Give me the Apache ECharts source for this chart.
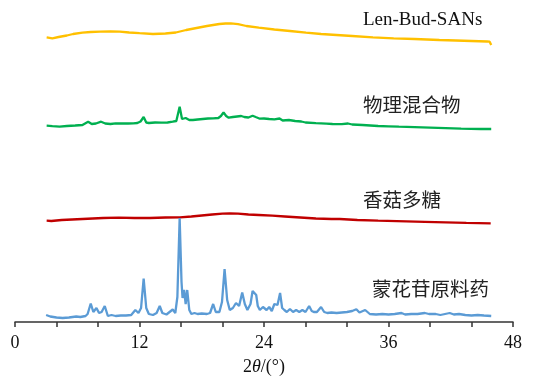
<!DOCTYPE html>
<html>
<head>
<meta charset="utf-8">
<script src="https://cdn.jsdelivr.net/npm/echarts@6/dist/echarts.min.js"></script>
<style>html,body{margin:0;padding:0;background:#fff}#c{width:533px;height:377px}</style>
</head>
<body>
<div id="c"></div>
<script>
// x tick labels
const xTicks = [0, 12, 24, 36, 48];
const seriesNames = ['Len-Bud-SANs', '物理混合物', '香菇多糖', '蒙花苷原料药'];

// 蒙花苷原料药 (blue) 2θ and offset intensity
const blueX = [3.0,3.4,4.0,4.6,5.2,5.9,6.3,6.8,7.0,7.3,7.55,7.85,8.1,8.35,8.65,8.95,9.3,9.7,10.2,10.7,11.2,11.6,11.9,12.15,12.4,12.65,12.9,13.3,13.65,13.95,14.2,14.6,15.2,15.45,15.65,15.87,16.05,16.15,16.3,16.45,16.6,16.8,17.0,17.3,17.6,18.0,18.5,18.8,19.1,19.35,19.7,19.95,20.2,20.45,20.7,21.0,21.3,21.6,21.9,22.15,22.4,22.7,22.9,23.05,23.25,23.4,23.6,23.9,24.0,24.25,24.5,24.75,25.0,25.3,25.55,25.75,25.96,26.2,26.5,26.8,27.1,27.4,27.7,28.0,28.35,28.6,28.8,29.1,29.5,29.8,30.1,30.5,31.0,31.5,32.0,32.5,32.9,33.2,33.75,34.2,34.8,35.4,36.0,36.6,37.25,37.6,38.2,38.8,39.5,39.9,40.55,41.0,41.9,42.3,42.8,43.4,44.0,44.6,45.2,45.9];
const blueY = [7,5.5,4.5,4,4.5,5.5,5,6,8,18.5,10,14,9,10,16,6,7,6,6.5,6.5,7,12,9,14,43.5,14,8,7,9,16,9,7.5,12.5,9,25,104,40,24,32,18,32,12,8,9,8,8.5,8,9,18,10,10,20,53,22,12,14,19,16,29.5,18,12,18,31,32,27,16,12,15,15,12,15,11,18,17,29,14,12,10,13,10,12,10,12,10,16,11,10,10,15,10,9,9.5,9,9.5,10,11,12.7,9.5,12,8,7.5,8,7.5,8,9,7.5,8,8,9,8,8,7,9,7.5,8,7,6.5,7,6.5,6];

// 香菇多糖 (red)
const redX = [3.05,3.5,4.5,5.5,6.5,7.5,8.5,10.0,11.5,13.0,14.5,15.9,17.0,18.0,19.0,20.0,20.7,21.5,22.5,23.5,24.8,26.0,27.5,29.0,30.5,31.3,33.0,35.0,37.7,39.5,41.5,43.5,45.85];
const redY = [101.3,101,102,102.5,103,103.5,104,104.3,104,104,104.5,104.7,105.5,106.5,107.5,108.3,108.7,108.3,107.5,107,106.3,105.5,104.5,103.5,103,103,102,101.3,100.7,100.2,99.7,99.2,98.7];

// 物理混合物 (green)
const greenX = [3.05,3.6,4.3,5.0,5.8,6.5,7.05,7.4,7.8,8.3,8.7,9.2,9.7,10.3,10.9,11.4,11.8,12.1,12.4,12.65,12.9,13.5,14.1,14.7,15.2,15.55,15.87,16.1,16.25,16.45,16.6,16.8,17.15,17.6,18.1,18.6,19.1,19.6,19.85,20.1,20.35,20.6,21.0,21.4,21.8,22.1,22.5,22.9,23.2,23.6,24.0,24.5,25.0,25.5,25.8,26.4,27.0,27.6,28.0,29.0,30.0,30.6,31.5,32.1,32.5,33.5,35.0,36.0,37.0,38.5,40.0,41.5,43.0,44.9,45.9];
const greenY = [196.3,195.8,195.3,196,196.5,197,200.3,198,198.5,200.3,198.5,198,198.7,198.5,198.5,198.7,199,200.5,205,199.5,199,199.5,199.3,199.5,200.3,201,215.3,203,202,204,203.5,202,202,202.5,203,203.5,203.7,204,206,209.7,206,204.3,205,205.5,206,205,204.5,206.3,205,203.3,203.5,203,202.7,203.5,201.5,202,201,200.5,199.5,198.8,198.3,198,197.8,198.5,197.5,197,196,195.7,195.3,194.8,194.3,193.8,193.3,193,193];

// Len-Bud-SANs (yellow)
const yellowX = [3.05,3.6,4.2,5.0,5.6,6.5,7.3,8.2,9.2,10.1,11.0,12.0,13.3,14.5,15.5,16.5,17.5,18.5,19.7,20.3,20.8,21.5,22.3,23.5,25.0,26.5,28.05,29.5,31.0,32.5,34.5,36.5,38.5,40.9,42.5,44.0,45.5,45.75,45.9];
const yellowY = [284.7,283.7,285,286.5,288,289.3,290,290.3,290.5,290.3,289.5,288.8,288,288.5,289.5,292,294,296,298,298.5,298.7,297.8,296,294.3,292.5,291,289.3,288,287,286,284.7,283.7,283,282,281.5,281,280.5,280.3,277];

const zip = (xs, ys) => xs.map((x, i) => [x, ys[i]]);

const chart = echarts.init(document.getElementById('c'), null, {renderer: 'canvas'});
const serif = '"Liberation Serif", "Times New Roman", serif';
const cjk = '"Liberation Serif", "Noto Sans CJK SC", serif';

function lineSeries(name, xs, ys, color) {
  return {
    name: name, type: 'line', data: zip(xs, ys), showSymbol: false, symbol: 'none',
    lineStyle: {color: color, width: 2.3}, itemStyle: {color: color}, animation: false, silent: true
  };
}

chart.setOption({
  backgroundColor: '#fff',
  animation: false,
  grid: {left: 15, right: 20, top: 0, bottom: 55, containLabel: false, outerBoundsMode: 'none'},
  xAxis: {
    type: 'value', min: 0, max: 48, interval: 4,
    axisLine: {show: true, lineStyle: {color: '#333', width: 1.5}},
    axisTick: {show: true, length: 5, lineStyle: {color: '#333', width: 1.5}},
    splitLine: {show: false},
    axisLabel: {
      margin: 12, color: '#111', fontFamily: serif, fontSize: 18,
      formatter: v => xTicks.indexOf(v) >= 0 ? String(v) : ''
    },
    name: '{a|2}{b|θ}{a|/(°)}', nameLocation: 'middle', nameGap: 36,
    nameTextStyle: {
      rich: {
        a: {fontFamily: serif, fontSize: 18, color: '#111'},
        b: {fontFamily: serif, fontSize: 18, fontStyle: 'italic', color: '#111'}
      }
    }
  },
  yAxis: {type: 'value', min: 0, max: 322, show: false, splitLine: {show: false}},
  series: [
    lineSeries(seriesNames[0], yellowX, yellowY, '#FFC000'),
    lineSeries(seriesNames[1], greenX, greenY, '#00B050'),
    lineSeries(seriesNames[2], redX, redY, '#C00000'),
    lineSeries(seriesNames[3], blueX, blueY, '#5B9BD5')
  ],
  graphic: [
    {type: 'text', left: 363, top: 11, style: {text: seriesNames[0], font: '19px ' + serif, fill: '#111'}},
    {type: 'text', left: 363, top: 97, style: {text: seriesNames[1], font: '19.5px ' + cjk, fill: '#222'}},
    {type: 'text', left: 363, top: 192, style: {text: seriesNames[2], font: '19.5px ' + cjk, fill: '#222'}},
    {type: 'text', left: 372, top: 281, style: {text: seriesNames[3], font: '19.5px ' + cjk, fill: '#222'}}
  ]
});
</script>
</body>
</html>
